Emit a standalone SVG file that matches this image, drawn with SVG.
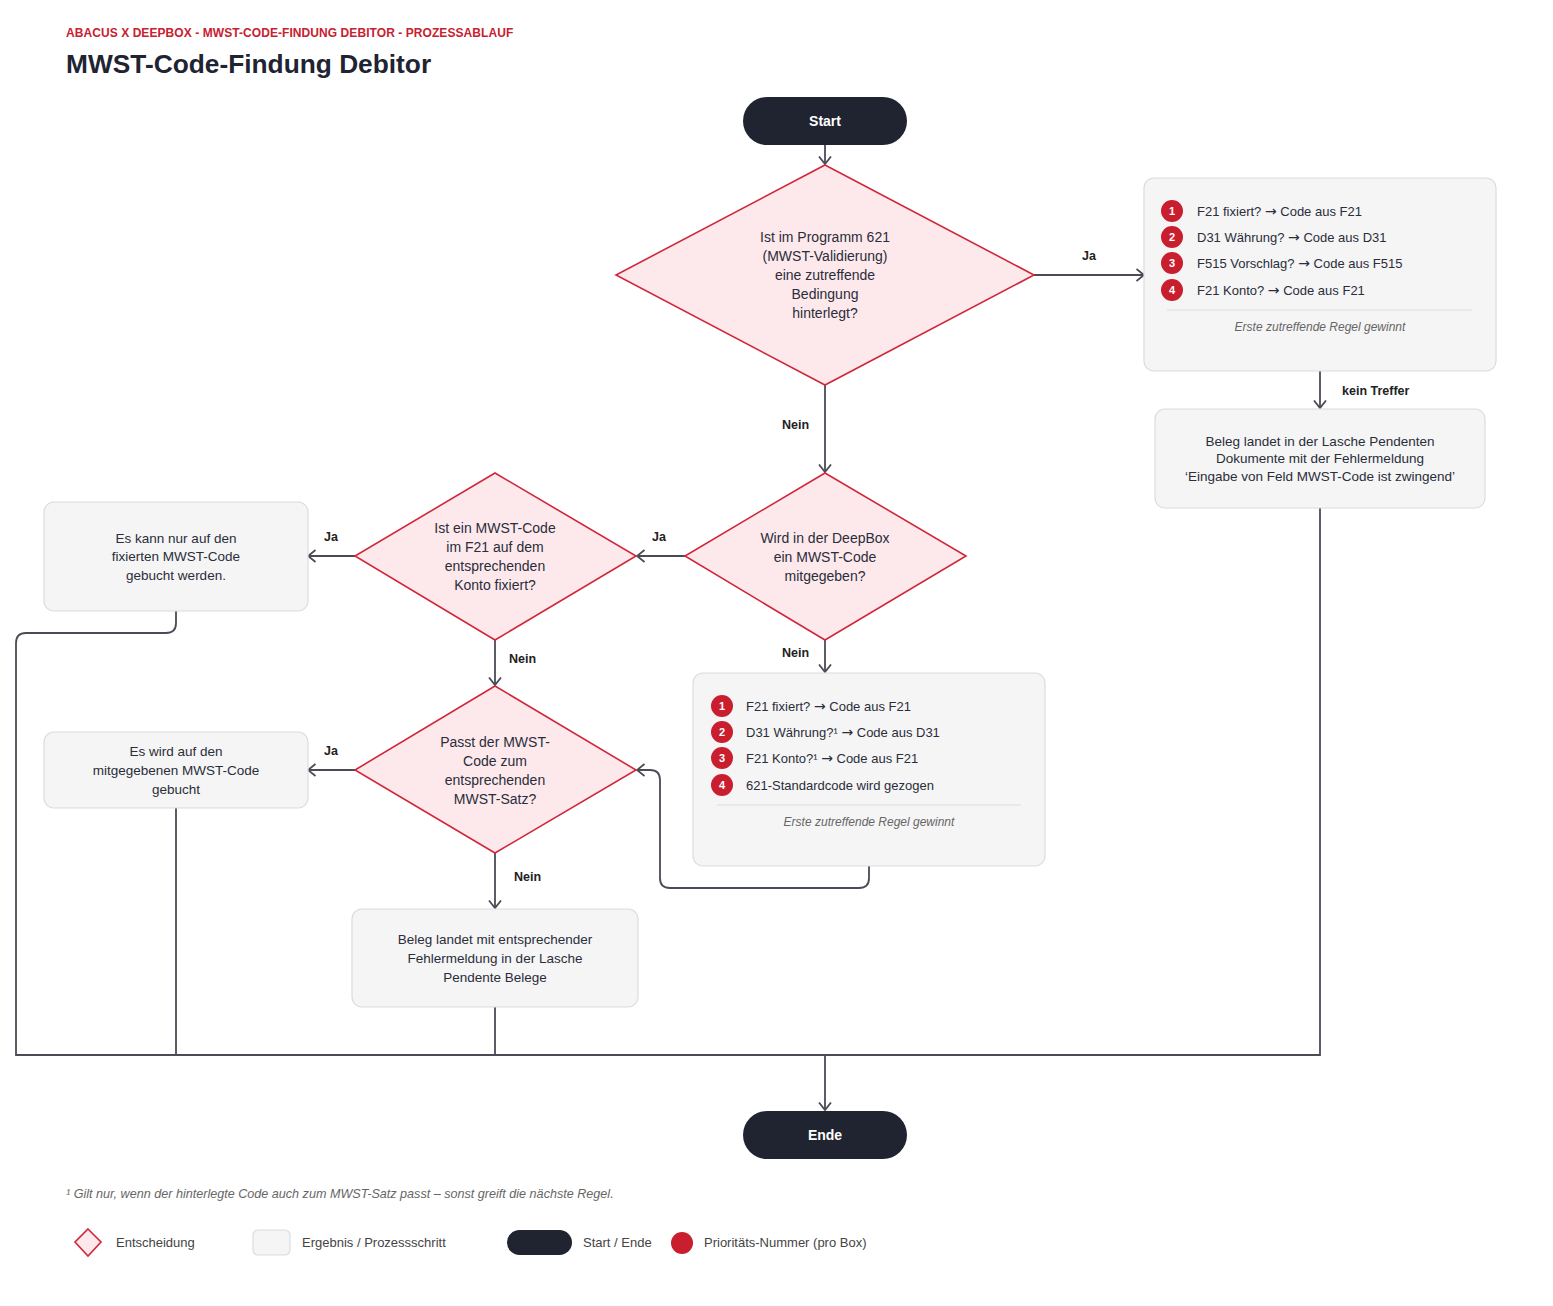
<svg xmlns="http://www.w3.org/2000/svg" width="1553" height="1306" viewBox="0 0 1553 1306">
<defs>
<style>
text{font-family:"Liberation Sans",Arial,sans-serif;}
.dia{fill:#fde9ec;stroke:#d0283a;stroke-width:1.6;}
.box{fill:#f5f5f5;stroke:#dcdcdc;stroke-width:1.2;}
.pill{fill:#1f2430;}
.nt{font-size:13.5px;fill:#2a2d3a;text-anchor:middle;}
.dt{font-size:14px;fill:#2a2d3a;text-anchor:middle;}
.it{font-size:13px;fill:#2a2d3a;}
.ar{font-family:"DejaVu Sans",sans-serif;font-size:14px;}
.lbl{font-size:12.5px;font-weight:bold;fill:#222;}
.pt{font-size:14px;font-weight:bold;fill:#fff;text-anchor:middle;}
.num{fill:#c81e2e;}
.nn{font-size:11px;font-weight:bold;fill:#fff;text-anchor:middle;}
.sep{stroke:#dddddd;stroke-width:1.2;}
.em{font-size:12px;font-style:italic;fill:#666;text-anchor:middle;}
.c{fill:none;stroke:#4a4b55;stroke-width:1.8;}
.lg{font-size:13px;fill:#444;}
</style>
<marker id="ah" markerUnits="userSpaceOnUse" viewBox="0 0 10 14" refX="8.5" refY="7" markerWidth="10" markerHeight="14" orient="auto">
<path d="M1,1 L8.5,7 L1,13" fill="none" stroke="#4a4b55" stroke-width="1.8"/>
</marker>
</defs>
<rect width="1553" height="1306" fill="#ffffff"/>
<text x="66" y="37" font-size="12" font-weight="bold" fill="#c8202f" letter-spacing="0.07">ABACUS X DEEPBOX - MWST-CODE-FINDUNG DEBITOR - PROZESSABLAUF</text>
<text x="66" y="73" font-size="26.3" font-weight="bold" fill="#1f2433">MWST-Code-Findung Debitor</text>

<g id="connectors">
<path class="c" d="M825 145 V164" marker-end="url(#ah)"/>
<path class="c" d="M1034 275 H1144" marker-end="url(#ah)"/>
<path class="c" d="M1320 371 V408" marker-end="url(#ah)"/>
<path class="c" d="M825 385 V472" marker-end="url(#ah)"/>
<path class="c" d="M685 556 H637" marker-end="url(#ah)"/>
<path class="c" d="M355 556 H308" marker-end="url(#ah)"/>
<path class="c" d="M825 640 V672" marker-end="url(#ah)"/>
<path class="c" d="M495 640 V685" marker-end="url(#ah)"/>
<path class="c" d="M355 770 H308" marker-end="url(#ah)"/>
<path class="c" d="M495 853 V908" marker-end="url(#ah)"/>
<path class="c" d="M869 866 V878 Q869 888 859 888 H670 Q660 888 660 878 V780 Q660 770 650 770 H637" marker-end="url(#ah)"/>
<path class="c" d="M176 611 V623 Q176 633 166 633 H26 Q16 633 16 643 V1055 H1320 V508"/>
<path class="c" d="M176 808 V1055"/>
<path class="c" d="M495 1007 V1055"/>
<path class="c" d="M825 1055 V1110" marker-end="url(#ah)"/>
<text class="lbl" x="1082" y="260">Ja</text>
<text class="lbl" x="1342" y="395" font-size="13">kein Treffer</text>
<text class="lbl" x="782" y="429">Nein</text>
<text class="lbl" x="652" y="541">Ja</text>
<text class="lbl" x="324" y="541">Ja</text>
<text class="lbl" x="782" y="657">Nein</text>
<text class="lbl" x="509" y="663">Nein</text>
<text class="lbl" x="324" y="755">Ja</text>
<text class="lbl" x="514" y="881">Nein</text>
</g>

<g id="start">
<rect class="pill" x="743" y="97" width="164" height="48" rx="24"/>
<text class="pt" x="825" y="126">Start</text>
</g>

<g id="d1">
<polygon class="dia" points="825,165 1034,275 825,385 616,275"/>
<text class="dt" x="825" y="242">Ist im Programm 621</text>
<text class="dt" x="825" y="261">(MWST-Validierung)</text>
<text class="dt" x="825" y="280">eine zutreffende</text>
<text class="dt" x="825" y="299">Bedingung</text>
<text class="dt" x="825" y="318">hinterlegt?</text>
</g>

<g id="r1">
<rect class="box" x="1144" y="178" width="352" height="193" rx="10"/>
<circle class="num" cx="1172" cy="211" r="11"/><text class="nn" x="1172" y="215">1</text>
<text class="it" x="1197" y="216">F21 fixiert? <tspan class="ar">→</tspan> Code aus F21</text>
<circle class="num" cx="1172" cy="237" r="11"/><text class="nn" x="1172" y="241">2</text>
<text class="it" x="1197" y="242">D31 Währung? <tspan class="ar">→</tspan> Code aus D31</text>
<circle class="num" cx="1172" cy="263" r="11"/><text class="nn" x="1172" y="267">3</text>
<text class="it" x="1197" y="268">F515 Vorschlag? <tspan class="ar">→</tspan> Code aus F515</text>
<circle class="num" cx="1172" cy="290" r="11"/><text class="nn" x="1172" y="294">4</text>
<text class="it" x="1197" y="295">F21 Konto? <tspan class="ar">→</tspan> Code aus F21</text>
<line class="sep" x1="1167" y1="310" x2="1472" y2="310"/>
<text class="em" x="1320" y="331">Erste zutreffende Regel gewinnt</text>
</g>

<g id="r2">
<rect class="box" x="1155" y="409" width="330" height="99" rx="10"/>
<text class="nt" x="1320" y="446" font-size="12.2">Beleg landet in der Lasche Pendenten</text>
<text class="nt" x="1320" y="463" font-size="12.2">Dokumente mit der Fehlermeldung</text>
<text class="nt" x="1320" y="481" font-size="12.2">‘Eingabe von Feld MWST-Code ist zwingend’</text>
</g>

<g id="d2">
<polygon class="dia" points="825,473 966,556 825,640 685,556"/>
<text class="dt" x="825" y="543">Wird in der DeepBox</text>
<text class="dt" x="825" y="562">ein MWST-Code</text>
<text class="dt" x="825" y="581">mitgegeben?</text>
</g>

<g id="d3">
<polygon class="dia" points="495,473 636,556 495,640 355,556"/>
<text class="dt" x="495" y="533">Ist ein MWST-Code</text>
<text class="dt" x="495" y="552">im F21 auf dem</text>
<text class="dt" x="495" y="571">entsprechenden</text>
<text class="dt" x="495" y="590">Konto fixiert?</text>
</g>

<g id="l1">
<rect class="box" x="44" y="502" width="264" height="109" rx="10"/>
<text class="nt" x="176" y="543">Es kann nur auf den</text>
<text class="nt" x="176" y="561">fixierten MWST-Code</text>
<text class="nt" x="176" y="580">gebucht werden.</text>
</g>

<g id="d4">
<polygon class="dia" points="495,686 636,770 495,853 355,770"/>
<text class="dt" x="495" y="747">Passt der MWST-</text>
<text class="dt" x="495" y="766">Code zum</text>
<text class="dt" x="495" y="785">entsprechenden</text>
<text class="dt" x="495" y="804">MWST-Satz?</text>
</g>

<g id="l2">
<rect class="box" x="44" y="732" width="264" height="76" rx="10"/>
<text class="nt" x="176" y="756">Es wird auf den</text>
<text class="nt" x="176" y="775">mitgegebenen MWST-Code</text>
<text class="nt" x="176" y="794">gebucht</text>
</g>

<g id="m">
<rect class="box" x="693" y="673" width="352" height="193" rx="10"/>
<circle class="num" cx="722" cy="706" r="11"/><text class="nn" x="722" y="710">1</text>
<text class="it" x="746" y="711">F21 fixiert? <tspan class="ar">→</tspan> Code aus F21</text>
<circle class="num" cx="722" cy="732" r="11"/><text class="nn" x="722" y="736">2</text>
<text class="it" x="746" y="737">D31 Währung?¹ <tspan class="ar">→</tspan> Code aus D31</text>
<circle class="num" cx="722" cy="758" r="11"/><text class="nn" x="722" y="762">3</text>
<text class="it" x="746" y="763">F21 Konto?¹ <tspan class="ar">→</tspan> Code aus F21</text>
<circle class="num" cx="722" cy="785" r="11"/><text class="nn" x="722" y="789">4</text>
<text class="it" x="746" y="790">621-Standardcode wird gezogen</text>
<line class="sep" x1="717" y1="805" x2="1021" y2="805"/>
<text class="em" x="869" y="826">Erste zutreffende Regel gewinnt</text>
</g>

<g id="b">
<rect class="box" x="352" y="909" width="286" height="98" rx="10"/>
<text class="nt" x="495" y="944" font-size="13.8">Beleg landet mit entsprechender</text>
<text class="nt" x="495" y="963" font-size="13.8">Fehlermeldung in der Lasche</text>
<text class="nt" x="495" y="982" font-size="13.8">Pendente Belege</text>
</g>

<g id="ende">
<rect class="pill" x="743" y="1111" width="164" height="48" rx="24"/>
<text class="pt" x="825" y="1140">Ende</text>
</g>

<text x="66" y="1198" font-size="12.6" font-style="italic" fill="#666">¹ Gilt nur, wenn der hinterlegte Code auch zum MWST-Satz passt – sonst greift die nächste Regel.</text>

<g id="legend">
<polygon class="dia" points="88,1229 101,1242 88,1256 75,1242"/>
<text class="lg" x="116" y="1247">Entscheidung</text>
<rect class="box" x="253" y="1230" width="37" height="25" rx="5"/>
<text class="lg" x="302" y="1247">Ergebnis / Prozessschritt</text>
<rect class="pill" x="507" y="1230" width="65" height="25" rx="12.5"/>
<text class="lg" x="583" y="1247">Start / Ende</text>
<circle class="num" cx="682" cy="1243" r="11"/>
<text class="lg" x="704" y="1247">Prioritäts-Nummer (pro Box)</text>
</g>
</svg>
